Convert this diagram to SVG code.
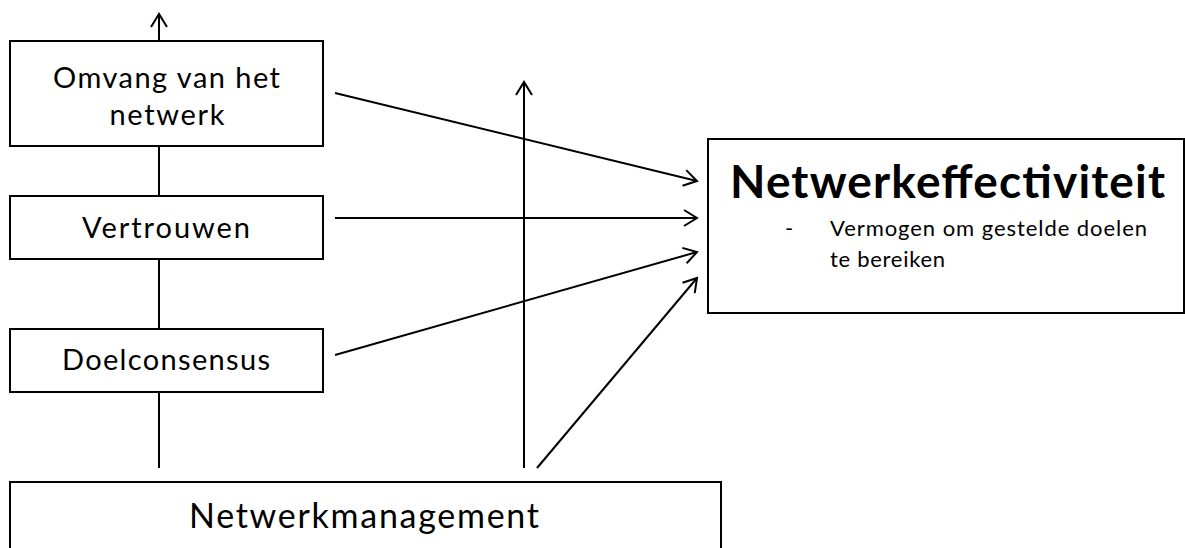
<svg xmlns="http://www.w3.org/2000/svg" width="1185" height="548" viewBox="0 0 1185 548">
  <style>
    .box { fill: #fff; stroke: #000; stroke-width: 2; }
    .lbl { font-family: Lato, "Open Sans", "Liberation Sans", sans-serif; fill: #000; text-anchor: middle; }
    .link { stroke: #000; stroke-width: 2; fill: none; }
    .arrow { stroke: #000; stroke-width: 2; fill: none; marker-end: url(#open); }
  </style>
  <defs>
    <marker id="open" markerUnits="userSpaceOnUse" markerWidth="20" markerHeight="20" viewBox="-16 -10 20 20" refX="0" refY="0" orient="auto">
      <path d="M-13,-8 L0,0 L-13,8" fill="none" stroke="#000" stroke-width="2"/>
    </marker>
  </defs>

  <g id="connectors">
    <line class="arrow" x1="159" y1="41" x2="159" y2="14"/>
    <line class="link" x1="159" y1="146" x2="159" y2="196"/>
    <line class="link" x1="159" y1="259" x2="159" y2="329"/>
    <line class="link" x1="159" y1="392" x2="159" y2="468"/>
    <line class="arrow" x1="524" y1="468" x2="524" y2="82"/>
    <line class="arrow" x1="335" y1="93" x2="697" y2="181"/>
    <line class="arrow" x1="335" y1="218" x2="697" y2="218"/>
    <line class="arrow" x1="335" y1="355" x2="697" y2="252"/>
    <line class="arrow" x1="537" y1="468" x2="697" y2="278"/>
  </g>

  <g id="omvang">
    <rect class="box" x="10" y="41" width="313" height="105"/>
    <text class="lbl" x="166.5" y="88" font-size="29" textLength="227">Omvang van het</text>
    <text class="lbl" x="167" y="125" font-size="29" textLength="115">netwerk</text>
  </g>

  <g id="vertrouwen">
    <rect class="box" x="10" y="196" width="313" height="63"/>
    <text class="lbl" x="166" y="238" font-size="29" textLength="168">Vertrouwen</text>
  </g>

  <g id="doelconsensus">
    <rect class="box" x="10" y="329" width="313" height="63"/>
    <text class="lbl" x="166" y="370" font-size="29" textLength="208">Doelconsensus</text>
  </g>

  <g id="netwerkmanagement">
    <rect class="box" x="10" y="482" width="711" height="80"/>
    <text class="lbl" x="364" y="528" font-size="34" textLength="350">Netwerkmanagement</text>
  </g>

  <g id="netwerkeffectiviteit">
    <rect class="box" x="708" y="139" width="476" height="174"/>
    <text class="lbl" x="947.5" y="198" font-size="46" font-weight="bold" textLength="435">Netwerkeffectiviteit</text>
    <text class="lbl" x="789" y="236" font-size="22">-</text>
    <text class="lbl" x="830" y="236" font-size="22" style="text-anchor:start" textLength="317">Vermogen om gestelde  doelen</text>
    <text class="lbl" x="830" y="267" font-size="22" style="text-anchor:start" textLength="115">te bereiken</text>
  </g>
</svg>
